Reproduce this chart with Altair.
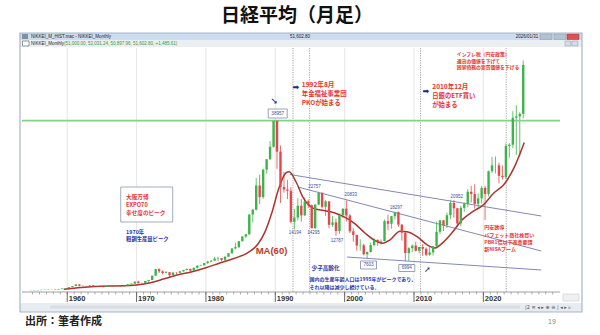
import altair as alt
import pandas as pd

JP = "Noto Sans CJK JP"
LAT = "Liberation Sans"

# ---------------- data (half-year candles, 1954H2 .. 2025H2) ----------------
first_year = 1954.5
first_open = 330
close = [
    356,
    370, 425, 490, 550, 510, 475, 560, 666, 800, 874,
    1100, 1356, 1720, 1432, 1400, 1420, 1540, 1225, 1260, 1216,
    1150, 1417, 1530, 1430, 1420, 1283, 1450, 1715, 1900, 2358,
    2000, 1987, 2500, 2714, 3700, 5208, 4700, 4307, 4500, 3817,
    4400, 4359, 4700, 4991, 5250, 4866, 5500, 6002, 6100, 6570,
    6900, 7116, 7600, 7682, 7300, 8017, 8800, 9894, 10200, 11543,
    12600, 13113, 17600, 18701, 24200, 21564, 27800, 30159, 33000, 38916,
    31900, 23849, 23300, 22984, 15950, 16925, 19600, 17417, 20600, 19723,
    14517, 19868, 22530, 19361, 20600, 15259, 15830, 13842, 17530, 18934,
    17400, 13786, 12970, 10543, 10620, 8579, 9083, 10677, 11858, 11489,
    11584, 16111, 15505, 17226, 18138, 15308, 13481, 8860, 9958, 10546,
    9382, 10229, 9816, 8455, 9007, 10395, 13677, 16291, 15162, 17451,
    20236, 19034, 15576, 19114, 20033, 22765, 22305, 20015, 21276, 23657,
    22288, 27444, 28791, 28792, 26393, 26095, 33189, 33464, 39583, 39895,
    40487, 51600,
]
high = [
    360,
    375, 430, 500, 560, 595, 520, 565, 670, 810, 900,
    1120, 1360, 1760, 1829, 1500, 1440, 1634, 1540, 1370, 1290,
    1260, 1420, 1588, 1560, 1470, 1450, 1460, 1850, 1930, 2360,
    2534, 2100, 2500, 2740, 3760, 5210, 5360, 4900, 4760, 4560,
    4600, 4500, 4800, 5000, 5287, 5290, 5540, 6010, 6200, 6600,
    7100, 7200, 8000, 8019, 7700, 8100, 8850, 9900, 11200, 11580,
    12700, 13200, 17700, 18900, 25900, 26646, 28000, 30200, 34300, 38957,
    38950, 33300, 27270, 25500, 23800, 18900, 21300, 21100, 21500, 21000,
    19900, 19900, 22750, 22600, 20900, 20600, 17300, 16700, 17800, 19000,
    20833, 17700, 14500, 13000, 11980, 10960, 9200, 11238, 12195, 11900,
    11975, 16445, 17563, 17300, 18240, 18297, 15400, 13600, 10170, 10767,
    11408, 10300, 10891, 10137, 10255, 10433, 15942, 16320, 16320, 18030,
    20952, 20946, 19100, 19592, 20318, 23382, 24129, 24448, 22362, 24091,
    24115, 27602, 30714, 30795, 29388, 28734, 33772, 33853, 41087, 42426,
    40852, 52600,
]
low = [
    315,
    345, 365, 420, 480, 500, 470, 470, 555, 660, 790,
    870, 1060, 1340, 1260, 1300, 1216, 1400, 1200, 1210, 1200,
    1020, 1140, 1410, 1400, 1380, 1250, 1260, 1430, 1700, 1880,
    1929, 1930, 1980, 2160, 2700, 3650, 4330, 4000, 4300, 3355,
    3800, 3990, 4340, 4600, 4950, 4600, 4860, 5400, 5900, 5950,
    6400, 6800, 7100, 6956, 7000, 6850, 7900, 8700, 9700, 10000,
    11500, 12300, 13000, 15800, 18500, 20000, 21200, 26900, 30100, 32800,
    28000, 20222, 22600, 21100, 15600, 14194, 16300, 16000, 17300, 19100,
    14485, 14295, 19700, 19000, 17300, 14490, 14800, 12787, 13200, 16800,
    16000, 13400, 11433, 9382, 9420, 8300, 7603, 9000, 10300, 10500,
    10770, 11500, 14045, 14400, 16500, 14800, 11691, 6994, 7021, 9050,
    9200, 8796, 8227, 8135, 8238, 8296, 10380, 13188, 13885, 14529,
    16592, 16901, 14864, 14952, 18224, 19239, 20347, 18948, 19241, 20110,
    16358, 21710, 27013, 26954, 24681, 25520, 25661, 30487, 32693, 31156,
    30792, 39454,
]

ma_year = [1959.5, 1962, 1964, 1966, 1968, 1970, 1972, 1974, 1976, 1978, 1980,
           1982, 1984, 1986, 1987.5, 1988.5, 1989.5, 1990.5, 1991.5, 1992, 1993,
           1994, 1995.5, 1997, 1998.5, 2000, 2001.5, 2003, 2004.5, 2005.5, 2006.5,
           2008, 2009, 2010.5, 2012, 2013, 2014, 2015.5, 2017, 2018.5, 2020,
           2021.5, 2023, 2024.5, 2025.9]
ma_value = [650, 1050, 1250, 1350, 1400, 1600, 2100, 3000, 3900, 4600, 5500,
            6600, 7600, 8900, 10900, 13600, 18000, 23500, 27000, 27300, 25000,
            21500, 19000, 18500, 18000, 17000, 15500, 13300, 11600, 11100, 11800,
            13800, 13700, 12500, 10600, 10000, 11000, 13500, 16500, 18300, 19800,
            22500, 24500, 28500, 34000]

trend_id = ["A", "A", "B", "B", "C", "C"]
trend_year = [1992.1, 2028.35, 1993.25, 2028.35, 2000.33, 2028.35]
trend_value = [26700, 17270, 23860, 9320, 7950, 5000]

event_years = [1992.55, 1994.95, 2010.94, 2023.3]
bubble_peak = [38957]
decades = [1960, 1970, 1980, 1990, 2000, 2010, 2020]
decade_labels = ["1960", "1970", "1980", "1990", "2000", "2010", "2020"]
y_ticks = list(range(5000, 55001, 5000))
minor_years = list(range(1955, 2031))

# annotations: text, year, value, font size
red_notes = [
    ("1992年8月", 1993.82, 47041, 6.6),
    ("年金福祉事業団", 1993.82, 44996, 6.4),
    ("PKOが始まる", 1993.82, 42950, 6.4),
    ("2010年12月", 2012.64, 46586, 6.5),
    ("日銀のETF買い", 2012.64, 44541, 6.3),
    ("が始まる", 2012.64, 42496, 6.3),
    ("インフレ税（円安政策）", 2016.18, 53858, 4.8),
    ("通貨の価値を下げて", 2016.18, 52268, 4.8),
    ("国家債務の実質価値を下げる", 2016.18, 50904, 4.8),
    ("大阪万博", 1968.49, 21589, 5.6),
    ("EXPO70", 1968.49, 19771, 5.6),
    ("幸せ度のピーク", 1968.49, 17953, 5.6),
    ("円安誘導", 2020.14, 14771, 5),
    ("バフェット商社株買い", 2020.14, 12953, 5),
    ("PBR1倍以下改善要請", 2020.14, 11363, 5),
    ("新NISAブーム", 2020.14, 9772, 5),
]
blue_notes = [
    ("1970年", 1968.49, 13635, 5.4),
    ("粗鋼生産量ピーク", 1968.49, 12044, 5.3),
    ("少子高齢化", 1995.23, 5454, 5.6),
    ("国内の生産年齢人口は1995年がピークであり、", 1994.95, 2954, 5),
    ("それ以降は減少し続けている。", 1994.95, 1136, 5),
]
number_notes = [
    ("22757", 1995.66, 23861, 4.5),
    ("20833", 2000.89, 22043, 4.5),
    ("18297", 2007.40, 19089, 4.5),
    ("20952", 2016.18, 21589, 4.5),
    ("14194", 1992.83, 13408, 4.5),
    ("14295", 1995.52, 13408, 4.5),
    ("12787", 1998.91, 11590, 4.5),
]
boxed_notes = [
    ("38957", 1990.35, 40564, 4.6),
    ("7603", 2003.44, 6136, 4.6),
    ("6994", 2008.96, 5454, 4.6),
]
arrow_notes = [
    ("➘", 1989.86, 43405, 9),
    ("➡", 1992.97, 46359, 8),
    ("➡", 2011.72, 45518, 8),
    ("➚", 2011.93, 5000, 8),
]
ma_note = [("MA(60)", 1987.17, 9317, 9.5)]
expo_box = [("", 1971.46, 19884, 5)]

# ---------------- tables ----------------
n = len(close)
t = [first_year + 0.25 + 0.5 * i for i in range(n)]
opens = [first_open] + close[:-1]
candles = pd.DataFrame({"t": t, "open": opens, "high": high, "low": low, "close": close})
candles["dir"] = ["up" if c >= o else "down" for o, c in zip(opens, close)]
ma = pd.DataFrame({"yr": ma_year, "v": ma_value})
trend = pd.DataFrame({"id": trend_id, "yr": trend_year, "v": trend_value})
dec = pd.DataFrame({"yr": decades, "lab": decade_labels})

xs = alt.Scale(domain=[1954.2, 2030.33], nice=False, zero=False)
ys = alt.Scale(domain=[0, 55450], nice=False, zero=True)
cs = alt.Scale(domain=["up", "down"], range=["#3db34a", "#e2474b"])

y_axis = alt.Axis(orient="right", values=y_ticks, format="d", tickSize=3, tickColor="#666",
                  labelPadding=1, labelFontSize=5, labelColor="#444", labelFont=LAT,
                  domainColor="#888", grid=False, title=None, labelBaseline="middle")

X = lambda f: alt.X(f, scale=xs, axis=None)
Y = lambda f: alt.Y(f, scale=ys, axis=None)

# decade grid, ticks and labels of the time axis
grid = alt.Chart(dec).mark_rule(color="#e0e0e0", strokeWidth=0.8).encode(x=X("yr:Q"))
dec_ticks = alt.Chart(dec).mark_rule(color="#555", strokeWidth=0.9).encode(
    x=X("yr:Q"), y=alt.value(244), y2=alt.value(254))
dec_labels = alt.Chart(dec).mark_text(align="left", baseline="middle", dx=1.5, fontSize=7.5,
                                      fontWeight="bold", font=LAT, color="#333").encode(
    x=X("yr:Q"), y=alt.value(250.5), text="lab:N")
baseline = alt.Chart(pd.DataFrame({"k": [0]})).mark_rule(color="#888", strokeWidth=0.8).encode(
    x=alt.value(0), x2=alt.value(538), y=alt.value(244))

wicks = alt.Chart(candles).mark_rule(strokeWidth=0.8).encode(
    x=X("t:Q"),
    y=alt.Y("low:Q", scale=ys, axis=y_axis),
    y2="high:Q",
    color=alt.Color("dir:N", scale=cs, legend=None),
)
bodies = alt.Chart(candles).mark_bar(size=2.4).encode(
    x=X("t:Q"), y=Y("open:Q"), y2="close:Q",
    color=alt.Color("dir:N", scale=cs, legend=None),
)
events = alt.Chart(pd.DataFrame({"yr": event_years})).mark_rule(
    color="#9c9c9c", strokeWidth=0.9, strokeDash=[1.2, 1.2]).encode(x=X("yr:Q"))
peak_line = alt.Chart(pd.DataFrame({"v": bubble_peak})).mark_rule(
    color="#84d284", strokeWidth=1.6).encode(y=Y("v:Q"))
minor = alt.Chart(pd.DataFrame({"yr": minor_years})).mark_rule(
    color="#777", strokeWidth=0.6).encode(x=X("yr:Q"), y=alt.value(244), y2=alt.value(246.5))
trends = alt.Chart(trend).mark_line(color="#8288b4", strokeWidth=1).encode(
    x=X("yr:Q"), y=Y("v:Q"), detail="id:N")
ma_line = alt.Chart(ma).mark_line(color="#a8362f", strokeWidth=1.5, interpolate="monotone").encode(
    x=X("yr:Q"), y=Y("v:Q"))


def notes(rows, color, weight="normal", align="center", font=JP):
    d = pd.DataFrame(rows, columns=["text", "yr", "v", "fs"])
    return alt.Chart(d).mark_text(align=align, baseline="middle", color=color,
                                  fontWeight=weight, font=font).encode(
        x=X("yr:Q"), y=Y("v:Q"), text="text:N",
        size=alt.Size("fs:Q", scale=None, legend=None))


def shape_box(rows, w, h, stroke="#7c8cab"):
    d = pd.DataFrame(rows, columns=["text", "yr", "v", "fs"])
    r = h / w
    path = f"M-1,-{r:.3f}L1,-{r:.3f}L1,{r:.3f}L-1,{r:.3f}Z"
    return alt.Chart(d).mark_point(shape=path, size=w * w, filled=True, fill="white",
                                   stroke=stroke, strokeWidth=0.8, opacity=1).encode(
        x=X("yr:Q"), y=Y("v:Q"))


one = pd.DataFrame({"k": [0]})


def box(x0, y0, x1, y1, fill, stroke=None, sw=1.0):
    kw = {"fill": fill}
    if stroke:
        kw.update(stroke=stroke, strokeWidth=sw)
    return alt.Chart(one).mark_rect(**kw).encode(
        x=alt.value(x0 - 22), x2=alt.value(x1 - 22), y=alt.value(y0 - 48), y2=alt.value(y1 - 48))


def label(text, x, y, size, color, align="left", weight="normal", font=LAT):
    return alt.Chart(one).mark_text(text=text, align=align, baseline="middle", fontSize=size,
                                    color=color, fontWeight=weight, font=font).encode(
        x=alt.value(x - 22), y=alt.value(y - 48))


chrome = [
    box(20, 33, 582, 40, "#cddcec"),
    box(20, 40, 582, 47, "#eaeff4"),
    box(20, 303, 582, 312, "#e8ecf0"),
    box(50, 305.5, 520, 308.5, "#d6dde5"),
    box(22, 34, 28, 39, "#7f90a6"),
    box(540, 34, 552, 39.5, "#b3c2d2", "#8a9aae", 0.5),
    box(554, 34, 566, 39.5, "#b3c2d2", "#8a9aae", 0.5),
    box(567, 34, 579, 39.5, "#d9534f", "#a33", 0.5),
    box(22.5, 41, 29, 46, "#ffffff", "#555", 0.6),
    box(565, 41, 571, 46, "#d5dce4", "#8a9aae", 0.5),
    box(572, 41, 578, 46, "#d5dce4", "#8a9aae", 0.5),
    box(563, 294, 579, 301, "#eef1f4", "#b8c2cc", 0.5),
    box(20, 33, 582, 312, "transparent", "#a6b6c8", 1.2),
    label("NIKKEI_M_HIST.mac - NIKKEI_Monthly", 31, 36.7, 4.5, "#223"),
    label("51,602.80", 300, 36.7, 4.5, "#223", "center"),
    label("2026/01/31", 527, 36.7, 4.5, "#223", "center"),
    label("NIKKEI_Monthly", 31, 43.7, 4.5, "#223"),
    label("(51,000.00, 52,031.24, 50,897.96, 51,602.80, +1,485.61)", 64, 43.7, 4.5, "#3a9a3a"),
    label("|2 ≡ ◂ ▸ ⊕ ⊖ | ◂ ▸ ▹", 525, 306.5, 5, "#555", font="DejaVu Sans"),
    label("日経平均（月足）", 297, 16, 19, "#111", "center", "bold", JP),
    label("出所：筆者作成", 25, 322, 11, "#222", "left", "bold", JP),
    label("19", 552, 322, 7, "#888", "center"),
]

layers = [
    wicks, grid, events, minor, dec_ticks, baseline, dec_labels, peak_line, trends, ma_line, bodies,
    shape_box(expo_box, 52, 35, "#8a98b0"),
    shape_box(boxed_notes[:1], 19, 9),
    shape_box(boxed_notes[1:2], 16, 8),
    shape_box(boxed_notes[2:], 16, 7),
    notes(red_notes, "#e3342f", "bold", "left"),
    notes(blue_notes, "#2a34a8", "bold", "left"),
    notes(number_notes, "#3a4fa0", "normal", "center", LAT),
    notes(boxed_notes, "#3a4fa0", "normal", "center", LAT),
    notes(arrow_notes, "#1b2a8c", "bold", "center", "DejaVu Sans"),
    notes(ma_note, "#c0392b", "bold", "left", LAT),
] + chrome

chart = alt.layer(*layers).properties(
    width=538, height=244,
    padding={"left": 22, "top": 48, "right": 40, "bottom": 43},
    autosize=alt.AutoSizeParams(type="none"),
).configure_view(stroke=None)

chart.save("out.html", embed_options={"renderer": "svg", "actions": False})
